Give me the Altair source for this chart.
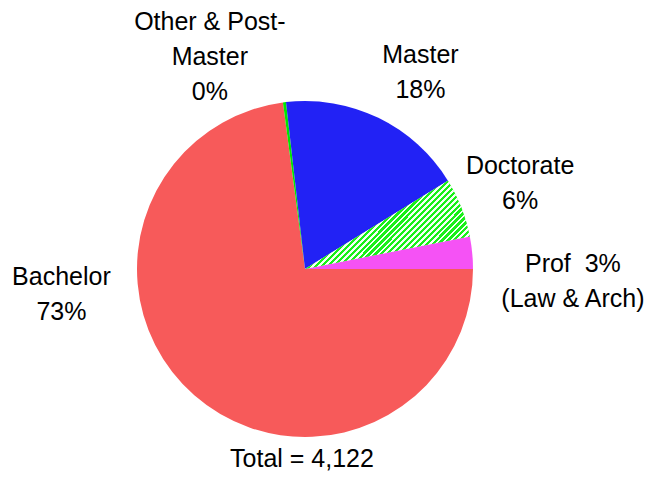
import math
import altair as alt
import pandas as pd

# ---- data ----
categories = ["Bachelor", "Other & Post-Master", "Master", "Doctorate", "Prof (Law & Arch)"]
counts = [3005, 12, 742, 235, 128]
label_templates = [
    "Bachelor\n{p}%",
    "Other & Post-\nMaster\n{p}%",
    "Master\n{p}%",
    "Doctorate\n{p}%",
    "Prof\u00a0 {p}%\n(Law & Arch)",
]

# ---- styles ----
colors = ["#F75A5A", "#00E600", "#2222F5", "#80EE80", "#F552F5"]
LH = 35
label_offsets = {
    "Bachelor": (-92, -147 - LH / 2),
    "Other & Post-Master": (-67, 16 - LH),
    "Master": (15, 10 - LH / 2),
    "Doctorate": (1, -1 - LH / 2),
    "Prof (Law & Arch)": (39, 35 - LH / 2),
}
FONT = "Liberation Sans"
FS = 25

# diagonal green/white stripes for the Doctorate slice
stripe_stops = []
n_stripes = 43
green_frac = 0.55
for k in range(n_stripes):
    a = k / n_stripes
    b = (k + green_frac) / n_stripes
    c = (k + 1) / n_stripes
    stripe_stops += [
        alt.GradientStop(offset=a, color="#18F018"),
        alt.GradientStop(offset=b, color="#18F018"),
        alt.GradientStop(offset=b, color="#F4FFF4"),
        alt.GradientStop(offset=c, color="#F4FFF4"),
    ]
stripe_fill = alt.LinearGradient(gradient="linear", stops=stripe_stops, x1=0, y1=0, x2=1.2, y2=0.64)

total = sum(counts)
starts, ends, mids, labels = [], [], [], []
acc = 0
for c, t in zip(counts, label_templates):
    starts.append(acc)
    ends.append(acc + c)
    mids.append(acc + c / 2)
    labels.append(t.format(p=round(c / total * 100)))
    acc += c

df = pd.DataFrame({
    "category": categories,
    "count": counts,
    "start": starts,
    "end": ends,
    "mid": mids,
    "label": labels,
})

theta_scale = alt.Scale(domain=[0, total], range=[math.pi / 2, math.pi / 2 + 2 * math.pi])

arc = alt.Chart(df).mark_arc(radius=168).encode(
    theta=alt.Theta("start:Q", scale=theta_scale, stack=False),
    theta2="end:Q",
    color=alt.Color("category:N", scale=alt.Scale(domain=categories, range=colors), legend=None),
)

doc_arc = alt.Chart(df).transform_filter(alt.datum.category == "Doctorate").mark_arc(
    radius=168, fill=stripe_fill
).encode(
    theta=alt.Theta("start:Q", scale=theta_scale, stack=False),
    theta2="end:Q",
)

texts = []
for cat in categories:
    dx, dy = label_offsets[cat]
    texts.append(
        alt.Chart(df)
        .transform_filter(alt.datum.category == cat)
        .mark_text(radius=230, dx=dx, dy=dy, font=FONT, fontSize=FS, lineBreak="\n",
                   lineHeight=LH, align="center", baseline="middle", color="black")
        .encode(theta=alt.Theta("mid:Q", scale=theta_scale, stack=False), text="label:N")
    )

total_text = alt.Chart(pd.DataFrame({"t": [f"Total = {total:,}"]})).mark_text(
    font=FONT, fontSize=FS, align="center", baseline="middle", color="black"
).encode(x=alt.value(197), y=alt.value(390), text="t:N")

chart = alt.layer(arc, doc_arc, *texts, total_text).properties(
    width=400,
    height=400,
    autosize=alt.AutoSizeParams(type="none"),
    padding={"left": 97, "top": 61, "right": 142, "bottom": 4},
).configure_view(strokeWidth=0)

chart.save("out.html", embed_options={"renderer": "svg", "actions": False})
